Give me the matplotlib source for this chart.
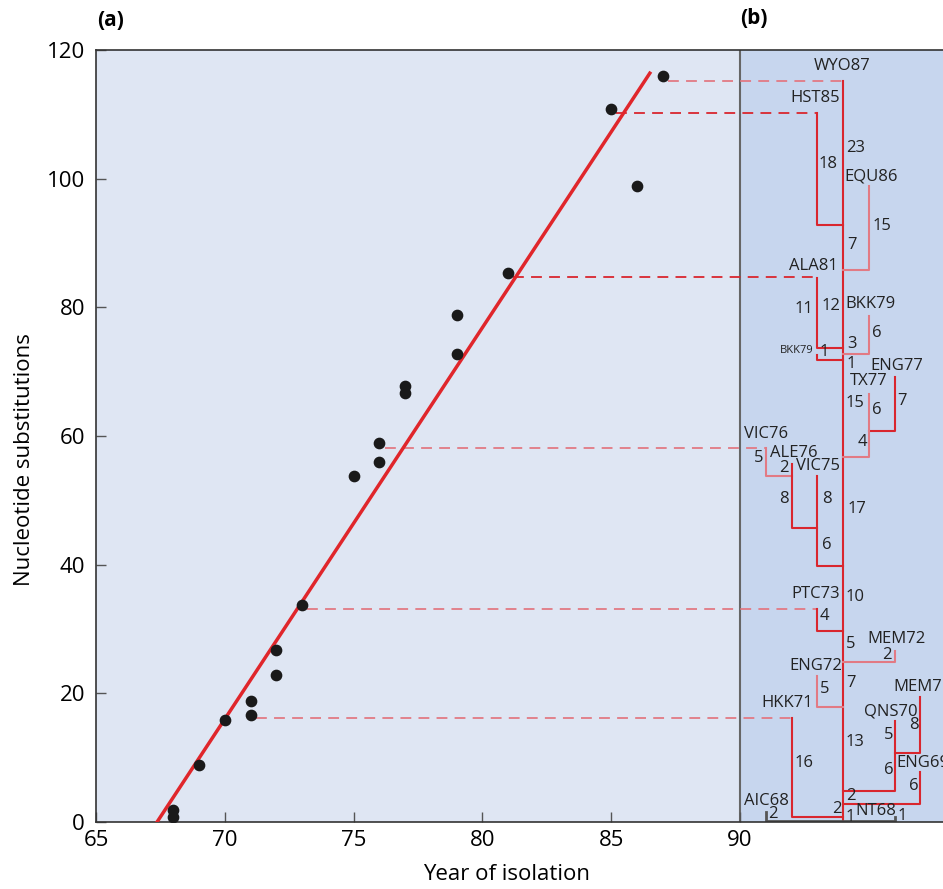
import numpy as np
import matplotlib
matplotlib.use("Agg")
from matplotlib import pyplot as plt

plt.rcParams['font.family'] = ['Open Sans', 'DejaVu Sans']

# (a) isolates: year of isolation vs nucleotide substitutions
years = [68, 68, 69, 70, 71, 71, 72, 72, 73, 75, 76, 76, 77, 77, 79, 79, 81, 85, 86, 87]
subs = [1.9, 0.7, 8.8, 15.8, 16.7, 18.8, 22.8, 26.7, 33.8, 53.8, 55.9, 58.9,
        66.7, 67.8, 72.8, 78.8, 85.3, 110.8, 98.8, 115.9]

# regression line end points
fit_years = [67.37, 86.5]
fit_subs = [0, 116.4]

# (b) tree: trunk and elbow branches (x level, top, bottom, join x, colour key)
trunk_x = 94
trunk_top = 115.2
branches = [
    (93, 110.2, 92.8, 94, 'r'),   # HST85
    (95, 98.8, 85.8, 94, 'p'),    # EQU86
    (93, 84.6, 73.7, 94, 'r'),    # ALA81
    (95, 78.7, 72.7, 94, 'p'),    # BKK79
    (93, 72.6, 71.8, 94, 'r'),    # BKK79 (small)
    (96, 69.2, 60.8, 95, 'r'),    # ENG77
    (95, 66.6, 56.8, 94, 'p'),    # TX77
    (91, 58.2, 53.8, 92, 'p'),    # VIC76
    (92, 55.6, 45.7, 93, 'r'),    # ALE76
    (93, 53.8, 39.8, 94, 'r'),    # VIC75
    (93, 33.1, 29.7, 94, 'r'),    # PTC73
    (96, 26.6, 24.8, 94, 'p'),    # MEM72
    (93, 22.7, 17.8, 94, 'p'),    # ENG72
    (92, 16.1, 0.7, 94, 'r'),     # HKK71
    (97, 19.4, 10.8, 96, 'r'),    # MEM71
    (96, 15.7, 4.8, 94, 'r'),     # QNS70
    (97, 7.7, 2.8, 94, 'r'),      # ENG69
]
# dashed links from isolates to tips: (start year, subs, tip x, colour key)
links = [
    (87.2, 115.2, 94, 'p'),
    (85.2, 110.2, 93, 'r'),
    (81.2, 84.7, 93, 'r'),
    (76.2, 58.2, 91, 'p'),
    (73.2, 33.1, 93, 'p'),
    (71.2, 16.2, 92, 'p'),
]
# labels on tree: (text, x, y, ha)
tree_text = [
    ('WYO87', 93.98, 117.5, 'center'), ('HST85', 93.88, 112.5, 'right'),
    ('23', 94.11, 104.7, 'left'), ('18', 93.77, 102.3, 'right'),
    ('EQU86', 94.04, 100.4, 'left'), ('15', 95.16, 92.6, 'left'),
    ('7', 94.15, 89.7, 'left'), ('ALA81', 93.8, 86.4, 'right'),
    ('11', 92.83, 79.7, 'right'), ('12', 93.88, 80.2, 'right'),
    ('BKK79', 94.11, 80.5, 'left'), ('6', 95.12, 76.0, 'left'),
    ('3', 94.15, 74.3, 'left'), ('1', 93.1, 73.1, 'left'),
    ('1', 94.15, 71.2, 'left'), ('ENG77', 95.05, 70.9, 'left'),
    ('TX77', 94.27, 68.6, 'left'), ('15', 94.11, 65.2, 'left'),
    ('6', 95.12, 64.0, 'left'), ('7', 96.1, 65.4, 'left'),
    ('4', 94.58, 59.0, 'left'), ('VIC76', 90.15, 60.3, 'left'),
    ('ALE76', 91.16, 57.4, 'left'), ('5', 90.54, 56.6, 'left'),
    ('2', 91.51, 55.0, 'left'), ('VIC75', 92.17, 55.3, 'left'),
    ('8', 91.51, 50.2, 'left'), ('8', 93.18, 50.2, 'left'),
    ('17', 94.19, 48.6, 'left'), ('6', 93.18, 43.1, 'left'),
    ('PTC73', 93.88, 35.4, 'right'), ('10', 94.11, 35.05, 'left'),
    ('4', 93.1, 32.0, 'left'), ('5', 94.11, 27.7, 'left'),
    ('MEM72', 94.93, 28.4, 'left'), ('2', 95.9, 26.0, 'right'),
    ('ENG72', 93.96, 24.3, 'right'), ('7', 94.11, 21.6, 'left'),
    ('5', 93.1, 20.7, 'left'), ('HKK71', 92.83, 18.5, 'right'),
    ('MEM71', 95.94, 21.0, 'left'), ('QNS70', 94.81, 17.25, 'left'),
    ('8', 96.56, 15.1, 'left'), ('5', 95.59, 13.6, 'left'),
    ('13', 94.11, 12.5, 'left'), ('16', 92.1, 9.1, 'left'),
    ('6', 95.59, 8.1, 'left'), ('ENG69', 96.06, 9.1, 'left'),
    ('6', 96.56, 5.6, 'left'), ('2', 94.11, 4.0, 'left'),
    ('2', 93.57, 2.0, 'left'), ('AIC68', 90.15, 3.3, 'left'),
    ('2', 91.09, 1.25, 'left'), ('1', 94.11, 0.85, 'left'),
    ('NT68', 94.46, 1.7, 'left'), ('1', 96.1, 0.9, 'left'),
]

red = '#d9262e'
pink = '#e27a84'
cols = {'r': red, 'p': pink}

fig = plt.figure(figsize=(9.43, 8.89), dpi=100)
ax = fig.add_axes([96/943, 1-822/889, 847/943, 772/889])
xmax = 65 + 847/25.76
ax.set_xlim(65, xmax)
ax.set_ylim(0, 120)
ax.set_facecolor('#dfe6f3')
ax.axvspan(90, xmax, color='#c7d6ee', zorder=0)
ax.axvline(90, color='#666666', lw=1.5, zorder=1)

for s in ['left', 'top', 'bottom']:
    ax.spines[s].set_color('#333333')
    ax.spines[s].set_linewidth(1.2)
ax.spines['right'].set_visible(False)

ax.set_xticks(np.arange(65, 91, 5))
ax.set_yticks(np.arange(0, 121, 20))
ax.tick_params(direction='in', length=7, width=1, color='#555555',
               labelsize=16, pad=6)
ax.tick_params(axis='y', pad=8)

# (a)
ax.plot(fit_years, fit_subs, color='#e0262b', lw=2.5, zorder=3)
ax.scatter(years, subs, s=55, color='#1a1a1a', zorder=4)

# (b)
for x0, y, x1, c in links:
    ax.plot([x0, x1], [y, y], color=cols[c], lw=1.3, dashes=(6, 4), zorder=2)
ax.plot([trunk_x, trunk_x], [trunk_top, 0], color=red, lw=1.5, zorder=2)
for x, top, bot, xj, c in branches:
    ax.plot([x, x, xj], [top, bot, bot], color=cols[c], lw=1.5, zorder=2)
ax.plot([91, 91, 96, 96], [1.6, 0.15, 0.15, 0.7], color='#555555', lw=2, zorder=2)

for t, x, y, ha in tree_text:
    fs = 8 if (t == 'BKK79' and y < 75) else 12
    ax.text(x, y, t, ha=ha, va='center', fontsize=fs, color='#222222')
ax.text(92.86, 73.3, 'BKK79', ha='right', va='center', fontsize=8, color='#222222')

fig.text(97/943, 1-20/889, '(a)', fontsize=15, fontweight='bold', va='center')
fig.text(740/943, 1-18/889, '(b)', fontsize=15, fontweight='bold', va='center')
fig.text(507/943, 1-875/889, 'Year of isolation', fontsize=16, ha='center', va='center')
fig.text(25/943, 1-460/889, 'Nucleotide substitutions', fontsize=16,
         rotation=90, ha='center', va='center')

fig.savefig('out.png', dpi=100)
